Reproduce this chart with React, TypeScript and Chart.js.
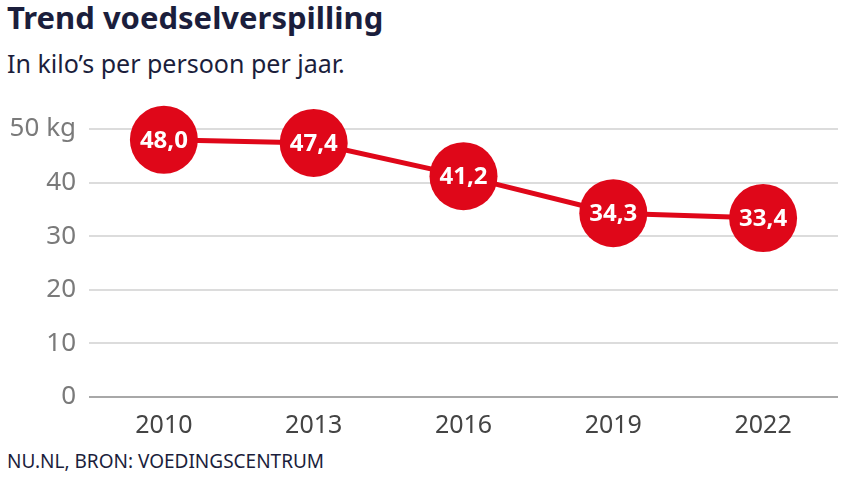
import React, { useEffect, useRef } from "react";
import { Chart, registerables } from "chart.js";

Chart.register(...registerables);

const years = ["2010", "2013", "2016", "2019", "2022"];
const kilos = [48.0, 47.4, 41.2, 34.3, 33.4];
const yTicks = [0, 10, 20, 30, 40, 50];

const RED = "#df0719";
const FONT = "'Noto Sans', sans-serif";

const labelPlugin = {
  id: "pointLabels",
  afterDatasetsDraw(chart: any) {
    const ctx = chart.ctx;
    const meta = chart.getDatasetMeta(0);
    ctx.save();
    ctx.fillStyle = "#ffffff";
    ctx.font = `bold 24px ${FONT}`;
    ctx.textAlign = "center";
    ctx.textBaseline = "middle";
    meta.data.forEach((el: any, i: number) => {
      const txt = kilos[i].toFixed(1).replace(".", ",");
      ctx.fillText(txt, el.x, el.y + 1);
    });
    ctx.restore();
  },
};

export default function App() {
  const ref = useRef<HTMLCanvasElement>(null);
  useEffect(() => {
    const chart = new Chart(ref.current!, {
      type: "line",
      data: {
        labels: years,
        datasets: [
          {
            data: kilos,
            borderColor: RED,
            backgroundColor: RED,
            borderWidth: 5,
            pointRadius: 34,
            pointHoverRadius: 34,
            pointBackgroundColor: RED,
            pointBorderWidth: 0,
            clip: false as any,
          },
        ],
      },
      options: {
        animation: false,
        responsive: false,
        maintainAspectRatio: false,
        events: [],
        layout: { autoPadding: false, padding: { top: 39, right: 16, bottom: 0, left: 0 } },
        plugins: { legend: { display: false }, tooltip: { enabled: false } },
        scales: {
          x: {
            offset: true,
            grid: { display: false },
            border: { display: false },
            ticks: { color: "#444", font: { family: FONT, size: 25 }, padding: 6 },
            afterFit(scale: any) {
              scale.height = 48;
            },
          },
          y: {
            min: 0,
            max: 50,
            afterBuildTicks(scale: any) {
              scale.ticks = yTicks.map((v) => ({ value: v }));
            },
            grid: {
              drawTicks: false,
              lineWidth: 2,
              color: (c: any) => (c.tick && c.tick.value === 0 ? "#a8a8a8" : "#dcdcdc"),
            },
            border: { display: false },
            ticks: {
              color: "#7a7a7a",
              font: { family: FONT, size: 26 },
              padding: 13,
              callback: (v: any) => (v === 50 ? "50 kg" : String(v)),
            },
            afterFit(scale: any) {
              scale.width = 89;
            },
          },
        },
      },
      plugins: [labelPlugin],
    });
    return () => chart.destroy();
  }, []);

  return (
    <div style={{ position: "absolute", left: 0, top: 0, width: 854, height: 480, background: "#fff", fontFamily: FONT, overflow: "hidden" }}>
      <div style={{ position: "absolute", left: 7, top: 2, fontSize: 31, fontWeight: 700, color: "#1b1e3c", lineHeight: "31px", whiteSpace: "nowrap" }}>
        Trend voedselverspilling
      </div>
      <div style={{ position: "absolute", left: 7, top: 51, fontSize: 25, color: "#1b1e3c", lineHeight: "25px", whiteSpace: "nowrap" }}>
        In kilo’s per persoon per jaar.
      </div>
      <canvas ref={ref} width={854} height={355} style={{ position: "absolute", left: 0, top: 90, width: 854, height: 355 }} />
      <div style={{ position: "absolute", left: 7, top: 452, fontSize: 19, color: "#1b1e3c", lineHeight: "19px", whiteSpace: "nowrap" }}>
        NU.NL, BRON: VOEDINGSCENTRUM
      </div>
    </div>
  );
}
